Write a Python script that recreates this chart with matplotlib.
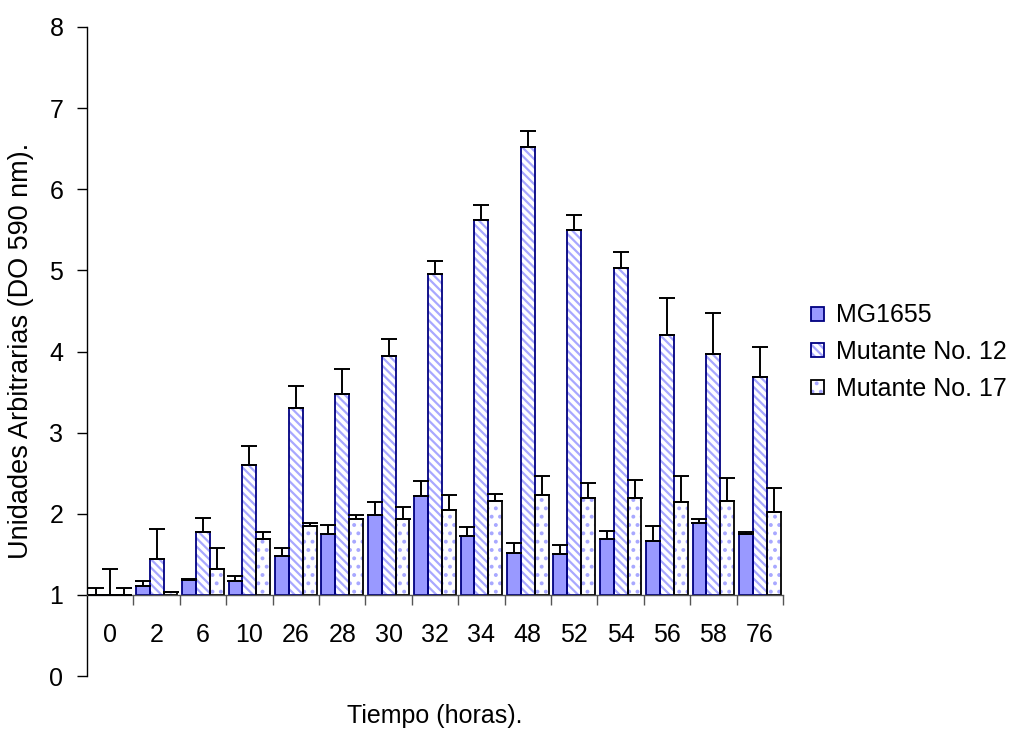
import matplotlib
matplotlib.use("Agg")
import matplotlib.pyplot as plt
from matplotlib.patches import Patch
from matplotlib.legend_handler import HandlerTuple
import numpy as np

plt.rcParams['font.family'] = ['Liberation Sans', 'DejaVu Sans']
plt.rcParams['hatch.linewidth'] = 1.6

categories = ['0', '2', '6', '10', '26', '28', '30', '32', '34', '48', '52', '54', '56', '58', '76']
series_names = ['MG1655', 'Mutante No. 12', 'Mutante No. 17']

mg1655 = [1.00, 1.11, 1.18, 1.17, 1.48, 1.75, 1.98, 2.22, 1.73, 1.52, 1.50, 1.69, 1.67, 1.89, 1.75]
mg1655_err = [0.09, 0.06, 0.02, 0.06, 0.10, 0.11, 0.16, 0.18, 0.11, 0.12, 0.12, 0.10, 0.18, 0.04, 0.02]

mut12 = [1.00, 1.44, 1.77, 2.60, 3.30, 3.48, 3.95, 4.95, 5.62, 6.52, 5.50, 5.03, 4.20, 3.97, 3.68]
mut12_err = [0.32, 0.37, 0.18, 0.23, 0.28, 0.30, 0.20, 0.16, 0.18, 0.20, 0.18, 0.20, 0.46, 0.50, 0.37]

mut17 = [1.00, 1.03, 1.32, 1.69, 1.85, 1.93, 1.93, 2.05, 2.16, 2.23, 2.20, 2.20, 2.14, 2.16, 2.02]
mut17_err = [0.09, 0.01, 0.26, 0.08, 0.04, 0.05, 0.15, 0.18, 0.08, 0.23, 0.18, 0.22, 0.32, 0.28, 0.30]

y_ticks = [0, 1, 2, 3, 4, 5, 6, 7, 8]
baseline = 1.0

W, H = 1011, 731
fig = plt.figure(figsize=(W / 100, H / 100), dpi=100)
ax_left, ax_right, ax_bot, ax_top = 87, 783, 676, 27
ax = fig.add_axes([ax_left / W, 1 - ax_bot / H, (ax_right - ax_left) / W, (ax_bot - ax_top) / H])

n = len(categories)
x = np.arange(n) + 0.5
bw = 0.3
light = '#9999FF'
navy = '#000080'
styles = [
    dict(face=light, hatch=None, hcolor=None, edge=navy),
    dict(face='white', hatch='\\\\\\\\', hcolor='#A8A8FF', edge=navy),
    dict(face='white', hatch='..', hcolor='#A8A8FF', edge='black'),
]
data = [(mg1655, mg1655_err), (mut12, mut12_err), (mut17, mut17_err)]
offsets = [-bw, 0, bw]

handles = []
for (vals, errs), off, st in zip(data, offsets, styles):
    vals = np.array(vals)
    heights = vals - baseline
    xs = x + off
    if st['hatch']:
        ax.bar(xs, heights, bw, bottom=baseline, color=st['face'], hatch=st['hatch'],
               edgecolor=st['hcolor'], linewidth=0, zorder=2)
        ax.bar(xs, heights, bw, bottom=baseline, fill=False, edgecolor=st['edge'],
               linewidth=1.3, zorder=2.5)
        h = (Patch(facecolor=st['face'], hatch=st['hatch'], edgecolor=st['hcolor'], linewidth=0),
             Patch(fill=False, edgecolor=st['edge'], linewidth=1.3))
    else:
        ax.bar(xs, heights, bw, bottom=baseline, color=st['face'], edgecolor=st['edge'],
               linewidth=1.3, zorder=2.5)
        h = Patch(facecolor=st['face'], edgecolor=st['edge'], linewidth=1.3)
    handles.append(h)
    ax.errorbar(xs, vals, yerr=[np.zeros(n), errs], fmt='none', ecolor='black',
                elinewidth=1.4, capsize=6, capthick=1.4, zorder=3)

ax.set_xlim(0, n)
ax.set_ylim(0, 8)
ax.set_yticks(y_ticks)
ax.set_yticklabels([str(t) for t in y_ticks], fontsize=18)
ax.tick_params(axis='y', direction='out', length=7, width=1, pad=10)

for s in ['top', 'right']:
    ax.spines[s].set_visible(False)
ax.spines['bottom'].set_position(('data', baseline))
ax.spines['bottom'].set_color('#555555')
ax.spines['bottom'].set_linewidth(1)
ax.spines['left'].set_linewidth(1)

ax.set_xticks(np.arange(1, n + 1))
ax.set_xticklabels([])
ax.tick_params(axis='x', which='major', direction='out', length=7, width=1, color='#555555')
ax.set_xticks(x, minor=True)
ax.set_xticklabels(categories, minor=True, fontsize=18)
ax.tick_params(axis='x', which='minor', length=0, pad=20)

fig.text(435 / W, 1 - 716 / H, 'Tiempo (horas).', ha='center', va='center', fontsize=18)
fig.text(21 / W, 1 - 351 / H, 'Unidades Arbitrarias (DO 590 nm).', ha='center', va='center',
         rotation=90, fontsize=19.5)

fig.legend(handles, series_names, loc='center left', bbox_to_anchor=(811 / W, 1 - 352 / H),
           frameon=False, fontsize=18, borderpad=0, borderaxespad=0,
           handlelength=0.5, handleheight=0.5, handletextpad=0.5, labelspacing=0.5,
           handler_map={tuple: HandlerTuple(ndivide=1)})

fig.savefig('out.png', dpi=100)
